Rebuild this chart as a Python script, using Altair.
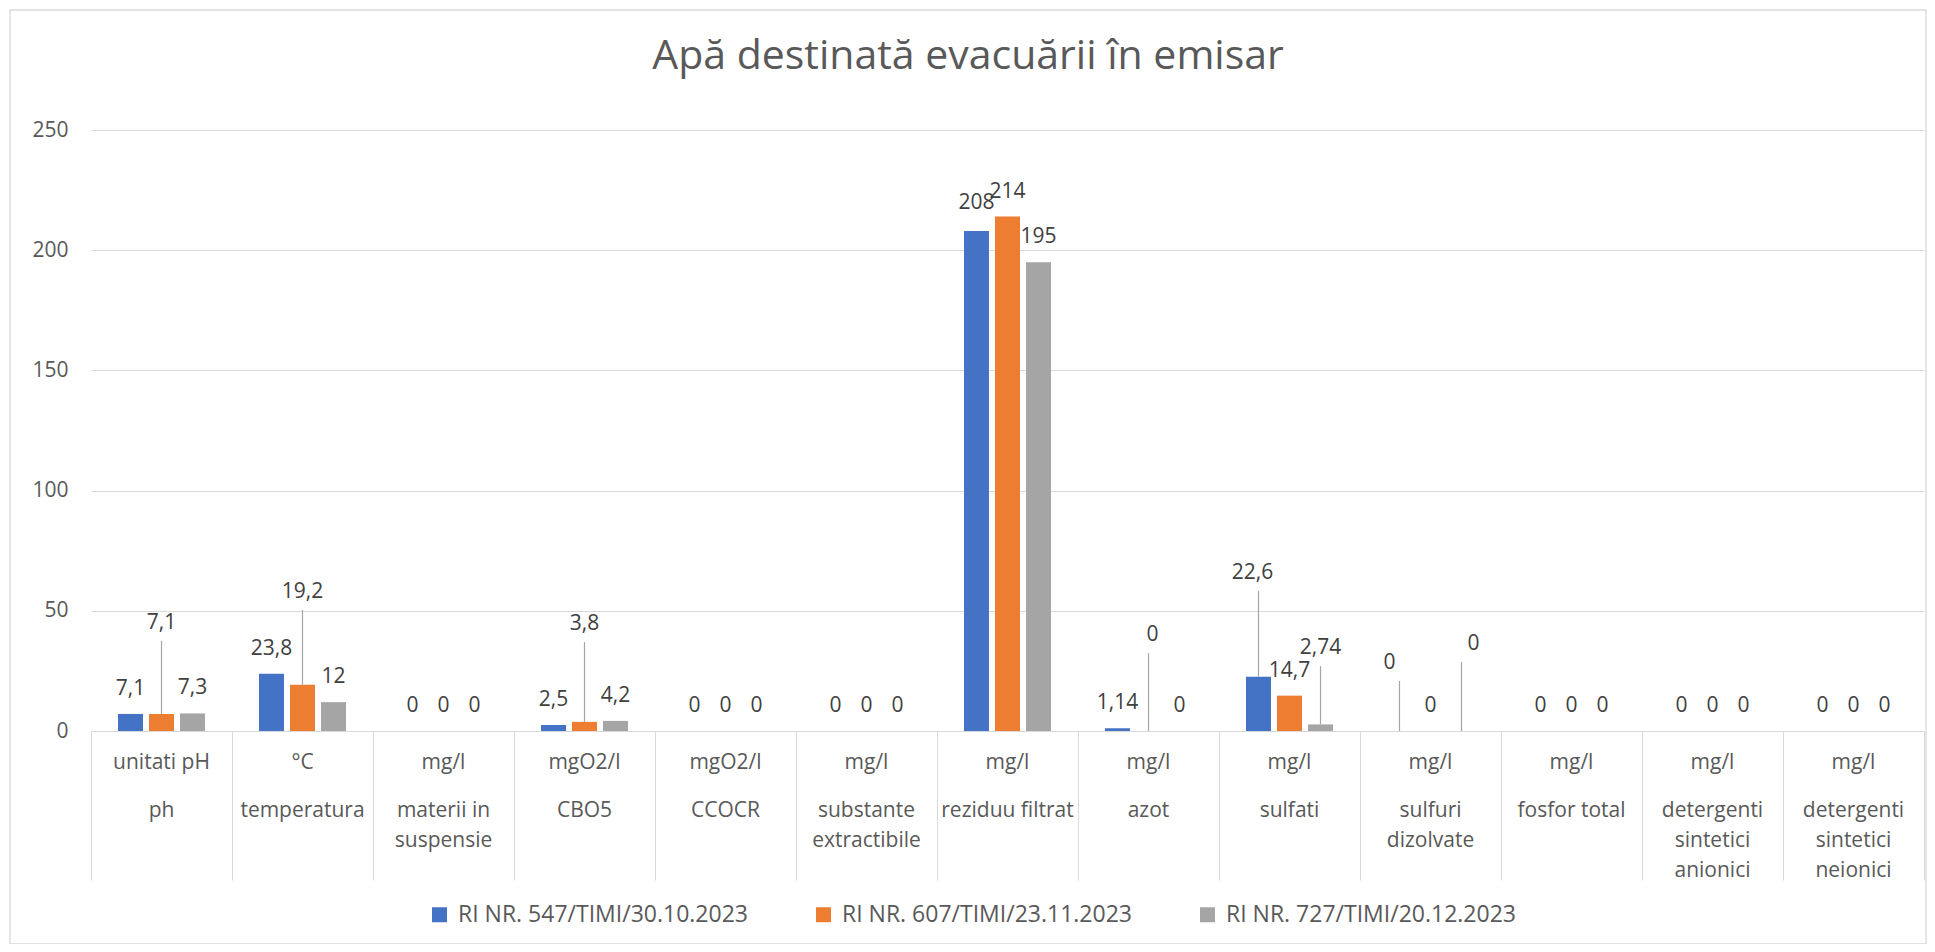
import altair as alt
import pandas as pd

# ---------------- data ----------------
categories = ["ph", "temperatura", "materii in suspensie", "CBO5", "CCOCR",
              "substante extractibile", "reziduu filtrat", "azot", "sulfati",
              "sulfuri dizolvate", "fosfor total",
              "detergenti sintetici anionici", "detergenti sintetici neionici"]
category_lines = ["ph", "temperatura", "materii in|suspensie", "CBO5", "CCOCR",
                  "substante|extractibile", "reziduu filtrat", "azot", "sulfati",
                  "sulfuri|dizolvate", "fosfor total",
                  "detergenti|sintetici|anionici", "detergenti|sintetici|neionici"]
units = ["unitati pH", "°C", "mg/l", "mgO2/l", "mgO2/l", "mg/l", "mg/l", "mg/l",
         "mg/l", "mg/l", "mg/l", "mg/l", "mg/l"]

series = ["RI NR. 547/TIMI/30.10.2023", "RI NR. 607/TIMI/23.11.2023",
          "RI NR. 727/TIMI/20.12.2023"]
values_547 = [7.1, 23.8, 0, 2.5, 0, 0, 208, 1.14, 22.6, 0, 0, 0, 0]
values_607 = [7.1, 19.2, 0, 3.8, 0, 0, 214, 0, 14.7, 0, 0, 0, 0]
values_727 = [7.3, 12, 0, 4.2, 0, 0, 195, 0, 2.74, 0, 0, 0, 0]

# label placement (value level of moved labels, None = default above the bar)
label_at_547 = [None, None, None, None, None, None, 219.6, None, 65.7, 28.3, None, None, None]
label_at_607 = [45.0, 57.8, None, 44.5, None, None, None, 39.9, None, None, None, None, None]
label_at_727 = [None, None, None, None, None, None, None, None, 34.5, 36.2, None, None, None]
# small horizontal nudges of labels (px)
label_dx_547 = [0, 0, 0, 0, 0, 0, 0, 0, -6, -10, 0, 0, 0]
label_dx_607 = [0, 0, 0, 0, 0, 0, 0, 4, 0, 0, 0, 0, 0]
label_dx_727 = [0, 0, 0, 0, 0, 0, 0, 0, 0, 12, 0, 0, 0]

colors = ["#4472C4", "#ED7D31", "#A5A5A5"]
title_text = "Apă destinată evacuării în emisar"

# ---------------- tables ----------------
all_vals = [values_547, values_607, values_727]
all_at = [label_at_547, label_at_607, label_at_727]
all_dx = [label_dx_547, label_dx_607, label_dx_727]

rows = []
for j, s in enumerate(series):
    for i, c in enumerate(categories):
        v = all_vals[j][i]
        rows.append({
            "cat": c, "series": s, "value": v,
            "label": f"{v:g}".replace(".", ","),
            "label_at": all_at[j][i], "dx": all_dx[j][i],
        })
df = pd.DataFrame(rows)
cat_df = pd.DataFrame({"cat": categories, "unit": units, "name": category_lines})

FONT = "Open Sans"
GREY = "#D9D9D9"
TXT = "#595959"
W, H = 1833, 601

x_scale = alt.Scale(domain=categories, paddingInner=0, paddingOuter=0)
x_axis = alt.Axis(title=None, labels=False, domain=True, domainColor=GREY,
                  domainWidth=1, ticks=True, tickBand="extent", tickSize=149,
                  tickColor=GREY, tickWidth=1, grid=False)
x_enc = alt.X("cat:N", scale=x_scale, axis=x_axis)
xo_enc = alt.XOffset("series:N", scale=alt.Scale(domain=series, paddingInner=0.194,
                                                   paddingOuter=0.87))
y_axis = alt.Axis(title=None, values=[0, 50, 100, 150, 200, 250], domain=False,
                  ticks=False, grid=True, gridColor=GREY, gridWidth=1,
                  labelFont=FONT, labelFontSize=21, labelColor=TXT, labelPadding=23)
y_scale = alt.Scale(domain=[0, 250], nice=False)

border = alt.Chart(alt.Data(values=[{"k": 1}])).mark_rect(
    fill="white", fillOpacity=0, stroke=GREY, strokeWidth=1.3
).encode(x=alt.value(-81), x2=alt.value(W + 2), y=alt.value(-120), y2=alt.value(H + 213))

bars = alt.Chart(df).mark_bar().encode(
    x=x_enc, xOffset=xo_enc,
    y=alt.Y("value:Q", scale=y_scale, axis=y_axis),
    color=alt.Color("series:N", scale=alt.Scale(domain=series, range=colors),
                    legend=alt.Legend(title=None, orient="none", legendX=337, legendY=773,
                                      direction="horizontal", columns=3,
                                      symbolType="square", symbolSize=225,
                                      symbolStrokeWidth=0, labelFont=FONT,
                                      labelFontSize=23, labelColor=TXT, labelOffset=7,
                                      columnPadding=64, labelLimit=500, padding=0)),
)

moved = df[df["label_at"].notna()]
leaders_df = moved[(moved["label_at"] - moved["value"]) > 20]
leaders = alt.Chart(leaders_df).mark_rule(color="#A6A6A6", strokeWidth=1.2, y2Offset=18).encode(
    x=x_enc, xOffset=xo_enc,
    y=alt.Y("value:Q", scale=y_scale, axis=y_axis),
    y2="label_at:Q",
)

label_layers = []
default_df = df[df["label_at"].isna()]
for dx in sorted(df["dx"].unique()):
    sub = default_df[default_df["dx"] == dx]
    if len(sub):
        label_layers.append(alt.Chart(sub).mark_text(
            font=FONT, fontSize=21, color="#404040", baseline="middle", dy=-25, dx=int(dx)
        ).encode(x=x_enc, xOffset=xo_enc,
                 y=alt.Y("value:Q", scale=y_scale, axis=y_axis), text="label:N"))
    sub = moved[moved["dx"] == dx]
    if len(sub):
        label_layers.append(alt.Chart(sub).mark_text(
            font=FONT, fontSize=21, color="#404040", baseline="middle", dx=int(dx)
        ).encode(x=x_enc, xOffset=xo_enc,
                 y=alt.Y("label_at:Q", scale=y_scale, axis=y_axis), text="label:N"))

unit_text = alt.Chart(cat_df).mark_text(
    font=FONT, fontSize=21, color=TXT, baseline="alphabetic"
).encode(x=x_enc, y=alt.value(H + 38), text="unit:N")

name_text = alt.Chart(cat_df).mark_text(
    font=FONT, fontSize=21, color=TXT, baseline="alphabetic", lineBreak="|", lineHeight=30
).encode(x=x_enc, y=alt.value(H + 86), text="name:N")

title = alt.Chart(alt.Data(values=[{"t": title_text}])).mark_text(
    font=FONT, fontSize=41, fontWeight="normal", color=TXT, align="center", baseline="alphabetic"
).encode(x=alt.value(877), y=alt.value(-61), text="t:N")

chart = alt.layer(border, bars, leaders, *label_layers, unit_text, name_text, title).properties(
    width=W, height=H,
    autosize=alt.AutoSizeParams(type="none"),
    padding={"left": 83, "top": 122, "right": 3, "bottom": 213},
    background="white",
).configure_view(stroke=None)

chart.save("out.html", embed_options={"renderer": "svg", "actions": False})
